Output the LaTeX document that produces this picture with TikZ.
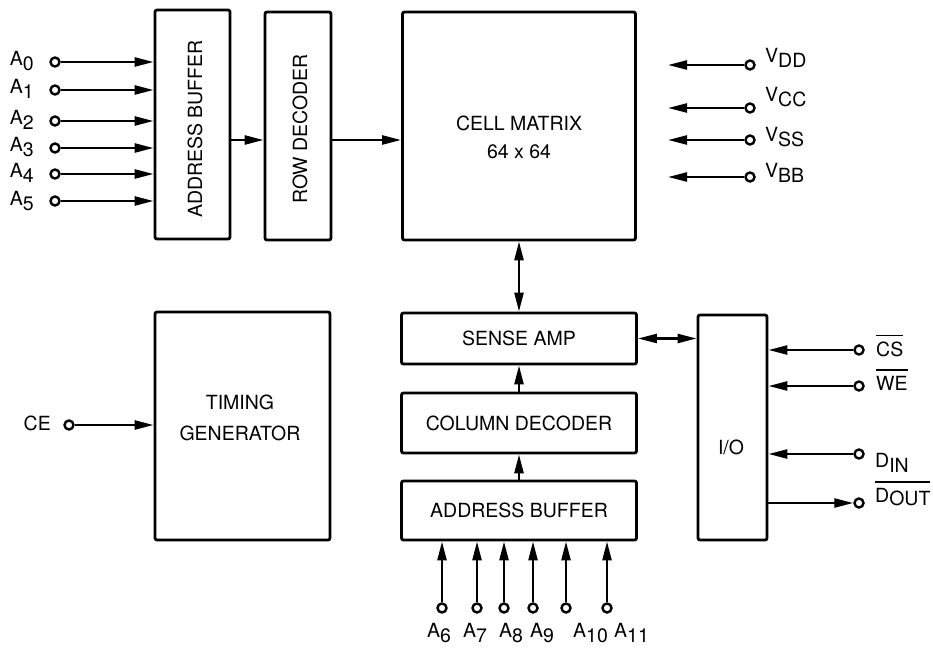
\documentclass[tikz,border=0pt]{standalone}
\usepackage{fontspec}
\setmainfont{TeX Gyre Heros}
\usetikzlibrary{arrows.meta}
\newcommand{\lowsub}[1]{\raisebox{-5pt}{#1}}
\newcommand{\barred}[1]{\leavevmode\vbox{\hrule height 1.4pt\kern 5pt\hbox{#1}}}

\tikzset{
    blk/.style={draw, line width=2.8pt, rounded corners=2pt, inner sep=0pt,
        font=\fontsize{19.5}{30}\selectfont},
    pin/.style={circle, draw, line width=2.4pt, inner sep=0pt, minimum size=9pt},
    sig/.style={line width=2.4pt, -{Triangle[length=19pt,width=9pt]}},
    bisig/.style={line width=2.4pt,
        {Triangle[length=19pt,width=9pt]}-{Triangle[length=19pt,width=9pt]}},
    txt/.style={font=\fontsize{19.5}{28}\selectfont, align=center, inner sep=0pt}
}

\begin{document}
\begin{tikzpicture}[x=1pt, y=-1pt]
    \useasboundingbox (0,0) rectangle (933,647);
    % Blocks
    \node[blk, minimum width=75pt, minimum height=229pt] (abufA) at (192.5,124.5) {};
    \node[txt, rotate=90] (abufAtxt) at (195,129) {ADDRESS BUFFER};
    \node[blk, minimum width=66pt, minimum height=228pt] (rowdec) at (298,126) {};
    \node[txt, rotate=90] (rowdectxt) at (300,129) {ROW DECODER};
    \node[blk, minimum width=233pt, minimum height=228pt] (cell) at (519,126) {};
    \node[txt] (celltxt) at (519,137) {CELL MATRIX\\64 x 64};
    \node[blk, minimum width=235pt, minimum height=51pt] (sense) at (519,338.5) {SENSE AMP};
    \node[blk, minimum width=235pt, minimum height=60pt] (coldec) at (519,423) {COLUMN DECODER};
    \node[blk, minimum width=235pt, minimum height=59pt] (abufB) at (519,510.5) {ADDRESS BUFFER};
    \node[blk, minimum width=175pt, minimum height=228pt] (timing) at (242.5,426) {};
    \node[txt, font=\fontsize{19.5}{31}\selectfont] (timingtxt) at (240,417.5) {TIMING\\GENERATOR};
    \node[blk, minimum width=69pt, minimum height=225pt] (io) at (732.5,427.5) {};
    \node[txt] (iotxt) at (731,447) {I/O};

    % Internal paths
    \draw[sig] ([yshift=-15.5pt]abufA.east) -- ([yshift=-15.5pt]abufA.east -| rowdec.west);
    \draw[sig] ([yshift=-14pt]rowdec.east) -- ([yshift=-14pt]rowdec.east -| cell.west);
    \draw[bisig] (cell.south) -- (cell.south |- sense.north);
    \draw[bisig] (sense.east) -- (sense.east -| io.west);
    \draw[sig] (coldec.north) -- (sense.south);
    \draw[sig] (abufB.north) -- (coldec.south);

    % Row address inputs
    \foreach \i/\y in {0/62, 1/90, 2/121, 3/148, 4/174, 5/201} {
        \node[pin] (a\i) at (55,\y) {};
        \node[txt, anchor=base east] (a\i lbl) at (34,{\y+4}) {A\lowsub{\i}};
        \draw[sig] (a\i) -- (a\i -| abufA.west);
    }

    % Column address inputs
    \foreach \i/\x/\lx in {6/442/427, 7/477/463, 8/504/499, 9/533/530, 10/566/573, 11/607/614} {
        \node[pin] (a\i) at (\x,608) {};
        \node[txt, anchor=base west] (a\i lbl) at (\lx,637) {A\lowsub{\i}};
        \draw[sig] (a\i) -- (a\i |- abufB.south);
    }

    % Supplies
    \foreach \n/\y/\ly in {DD/65/63, CC/108/102, SS/140/142, BB/177/178} {
        \node[pin] (v\n) at (750,\y) {};
        \coordinate (v\n end) at (668,\y);
        \node[txt, anchor=base west] (v\n lbl) at (765,\ly) {V\lowsub{\n}};
        \draw[sig] (v\n) -- (v\n end);
    }

    % Chip enable
    \node[pin] (ce) at (69,425) {};
    \node[txt, anchor=base east] (celbl) at (51,430) {CE};
    \draw[sig] (ce) -- (ce -| timing.west);

    % Control and data
    \node[pin] (cs) at (859,350) {};
    \node[txt, anchor=base west] (cslbl) at (876,356) {\barred{CS}};
    \draw[sig] (cs) -- (cs -| io.east);
    \node[pin] (we) at (859,386) {};
    \node[txt, anchor=base west] (welbl) at (876,390) {\barred{WE}};
    \draw[sig] (we) -- (we -| io.east);
    \node[pin] (din) at (859,454) {};
    \node[txt, anchor=base west] (dinlbl) at (875,467) {D\lowsub{IN}};
    \draw[sig] (din) -- (din -| io.east);
    \node[pin] (dout) at (859,503) {};
    \node[txt, anchor=base west] (doutlbl) at (875,502) {\barred{D\raisebox{-3pt}{OUT}}};
    \draw[sig] (dout -| io.east) -- (dout);
\end{tikzpicture}
\end{document}
